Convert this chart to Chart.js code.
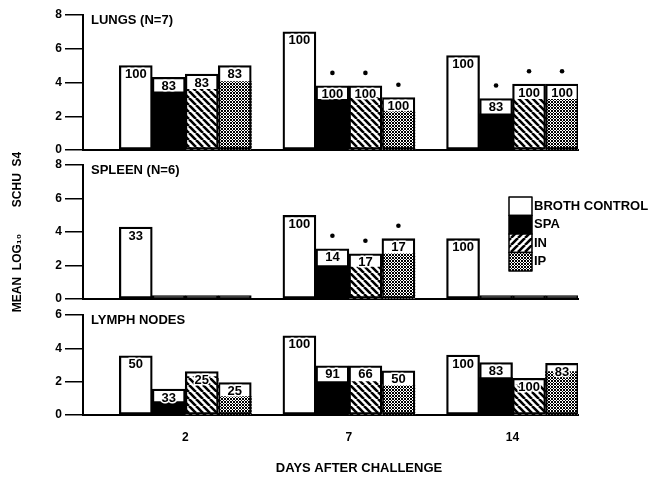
<!DOCTYPE html>
<html>
<head>
<meta charset="utf-8">
<script src="https://cdn.jsdelivr.net/npm/chart.js@4/dist/chart.umd.min.js"></script>
<style>
  html, body { margin: 0; padding: 0; background: #fff; }
  #wrap { position: relative; width: 650px; height: 477px; overflow: hidden; }
  #wrap canvas { position: absolute; left: 0; top: 0; }
</style>
</head>
<body>
<div id="wrap">
  <canvas id="lungs" width="650" height="477"></canvas>
  <canvas id="spleen" width="650" height="477"></canvas>
  <canvas id="lymph" width="650" height="477"></canvas>
</div>
<script>
/* ---------- data ---------- */
var DAYS         = ['2', '7', '14'];
var GROUPS       = ['BROTH CONTROL', 'SPA', 'IN', 'IP'];
var PANEL_TITLES = ['LUNGS (N=7)', 'SPLEEN (N=6)', 'LYMPH NODES'];
var Y_TITLE      = 'MEAN  LOG\u2081\u2080        SCHU  S4';
var X_TITLE      = 'DAYS AFTER CHALLENGE';

// lungs: box height (all animals) and filled part, per day
var lungsBroth   = [5.0, 7.0, 5.6];
var lungsSpa     = [4.3, 3.8, 3.05];
var lungsIn      = [4.5, 3.8, 3.9];
var lungsIp      = [5.0, 3.1, 3.9];
var lungsSpaFill = [3.45, 3.0, 2.15];
var lungsInFill  = [3.6, 3.1, 3.0];
var lungsIpFill  = [4.05, 2.3, 3.0];
var lungsPct     = [[100, 100, 100], [83, 100, 83], [83, 100, 100], [83, 100, 100]];
var lungsSig     = [[0, 0, 0], [0, 1, 1], [0, 1, 1], [0, 1, 1]];

// spleen
var spleenBroth   = [4.3, 5.0, 3.6];
var spleenSpa     = [0.2, 3.0, 0.2];
var spleenIn      = [0.2, 2.7, 0.2];
var spleenIp      = [0.2, 3.6, 0.2];
var spleenSpaFill = [null, 2.0, null];
var spleenInFill  = [null, 1.9, null];
var spleenIpFill  = [null, 2.7, null];
var spleenPct     = [[33, 100, 100], [null, 14, null], [null, 17, null], [null, 17, null]];
var spleenSig     = [[0, 0, 0], [0, 1, 0], [0, 1, 0], [0, 1, 0]];

// lymph nodes
var lymphBroth   = [3.55, 4.75, 3.6];
var lymphSpa     = [1.55, 2.95, 3.15];
var lymphIn      = [2.6, 2.95, 2.2];
var lymphIp      = [1.95, 2.65, 3.1];
var lymphSpaFill = [0.8, 2.0, 2.25];
var lymphInFill  = [2.3, 2.0, 1.8];
var lymphIpFill  = [1.1, 1.75, 2.6];
var lymphPct     = [[50, 100, 100], [33, 91, 83], [25, 66, 100], [25, 50, 83]];
var lymphSig     = [[0, 0, 0], [0, 0, 0], [0, 0, 0], [0, 0, 0]];

/* ---------- fills ---------- */
var FONT = '"Liberation Sans", Arial, sans-serif';
Chart.defaults.font.family = FONT;
Chart.defaults.color = '#000';

function stripePattern(back) {
  var s = 7;
  var c = document.createElement('canvas');
  c.width = s; c.height = s;
  var x = c.getContext('2d');
  x.fillStyle = '#fff'; x.fillRect(0, 0, s, s);
  x.strokeStyle = '#000'; x.lineWidth = 2.6;
  x.beginPath();
  for (var k = -1; k <= 1; k++) {
    if (back) { x.moveTo(k * s, 0); x.lineTo(k * s + s, s); }
    else      { x.moveTo(k * s, s); x.lineTo(k * s + s, 0); }
  }
  x.stroke();
  return x.createPattern(c, 'repeat');
}

function dotPattern() {
  var c = document.createElement('canvas');
  c.width = 3; c.height = 3;
  var x = c.getContext('2d');
  x.fillStyle = '#fff'; x.fillRect(0, 0, 3, 3);
  x.fillStyle = '#000';
  [[0, 0], [2, 0], [1, 1], [0, 2], [2, 2]].forEach(function (p) { x.fillRect(p[0], p[1], 1, 1); });
  return x.createPattern(c, 'repeat');
}

var FILLS        = ['#fff', '#000', stripePattern(true), dotPattern()];
var LEGEND_FILLS = ['#fff', '#000', stripePattern(false), dotPattern()];

/* ---------- helpers ---------- */
function toXY(values) {
  return values.map(function (v, i) { return { x: i, y: v }; });
}

// near-zero boxes are printed as a solid black strip on the baseline
function boxFill(ctx) {
  return ctx.raw && ctx.raw.y !== null && ctx.raw.y < 0.5 ? '#000' : 'rgba(0,0,0,0)';
}

function buildDatasets(totals, fills) {
  var ds = [];
  GROUPS.forEach(function (name, g) {
    ds.push({
      label: name, data: toXY(totals[g]), stack: 's' + g,
      backgroundColor: boxFill, borderColor: '#000',
      borderWidth: 1.6, borderSkipped: false, isBox: true, group: g,
    });
    if (fills[g]) {
      ds.push({
        label: name + ' fill', data: toXY(fills[g]), stack: 's' + g,
        backgroundColor: FILLS[g], borderWidth: 0, isBox: false, group: g,
      });
    }
  });
  return ds;
}

var PANEL_INFO = {};

var decoPlugin = {
  id: 'deco',
  afterDatasetsDraw: function (chart) {
    var info = PANEL_INFO[chart.canvas.id];
    var ctx = chart.ctx;
    var area = chart.chartArea;
    ctx.save();

    // percent labels inside the boxes and significance dots
    ctx.font = 'bold 13px ' + FONT;
    ctx.textAlign = 'center';
    ctx.textBaseline = 'middle';
    chart.data.datasets.forEach(function (ds, di) {
      if (!ds.isBox) return;
      var meta = chart.getDatasetMeta(di);
      meta.data.forEach(function (bar, i) {
        var pct = info.pct[ds.group][i];
        if (pct !== null) {
          ctx.lineWidth = 3; ctx.strokeStyle = '#fff'; ctx.lineJoin = 'round';
          ctx.strokeText(String(pct), bar.x, bar.y + 9);
          ctx.fillStyle = '#000';
          ctx.fillText(String(pct), bar.x, bar.y + 9);
        }
        if (info.sig[ds.group][i]) {
          ctx.beginPath();
          ctx.arc(bar.x, bar.y - 13, 2.3, 0, Math.PI * 2);
          ctx.fillStyle = '#000';
          ctx.fill();
        }
      });
    });

    // panel title
    ctx.textAlign = 'left';
    ctx.fillStyle = '#000';
    ctx.fillText(info.title, area.left + 8, area.top + 5);

    // legend
    if (info.legend) {
      var lx = 509, ly = 197, lw = 23, lh = 18.5;
      GROUPS.forEach(function (name, g) {
        ctx.fillStyle = LEGEND_FILLS[g];
        ctx.fillRect(lx, ly + g * lh, lw, lh);
        ctx.strokeStyle = '#000'; ctx.lineWidth = 1.5;
        ctx.strokeRect(lx, ly + g * lh, lw, lh);
        ctx.fillStyle = '#000';
        ctx.fillText(name, lx + lw + 2, ly + g * lh + lh / 2);
      });
    }

    // x axis title
    if (info.xTitle) {
      ctx.textAlign = 'center';
      ctx.fillText(X_TITLE, 359, 468);
    }
    ctx.restore();
  },
};

function makePanel(id, title, max, totals, fills, pct, sig, opts) {
  PANEL_INFO[id] = { title: title, pct: pct, sig: sig, legend: !!opts.legend, xTitle: !!opts.xLabels };

  return new Chart(document.getElementById(id), {
    type: 'bar',
    data: { datasets: buildDatasets(totals, fills) },
    plugins: [decoPlugin],
    options: {
      responsive: false,
      animation: false,
      events: [],
      barThickness: 33,
      layout: { padding: { left: 0, right: 72, top: opts.top, bottom: opts.bottom } },
      plugins: { legend: { display: false }, tooltip: { enabled: false }, title: { display: false } },
      scales: {
        x: {
          type: 'linear', min: -0.625, max: 2.4, offset: false,
          grid: { display: true, drawOnChartArea: false, drawTicks: false, offset: false },
          border: { color: '#000', width: 2 },
          ticks: {
            display: !!opts.xLabels, padding: 15, color: '#000',
            font: { size: 12, weight: 'bold' },
            callback: function (v) { return DAYS[v]; },
          },
          afterBuildTicks: function (s) {
            s.ticks = DAYS.map(function (d, i) { return { value: i }; });
          },
          afterFit: function (s) { s.height = opts.xLabels ? 62 : 0; },
        },
        y: {
          min: 0, max: max, stacked: false,
          ticks: { stepSize: 2, padding: 3, color: '#000', font: { size: 12, weight: 'bold' } },
          grid: { drawOnChartArea: false, drawTicks: true, tickLength: 18, color: '#000', lineWidth: 1.5 },
          border: { color: '#000', width: 2 },
          title: {
            display: !!opts.yTitle, text: Y_TITLE, color: '#000',
            font: { size: 12, weight: 'bold' }, padding: { top: 10, bottom: 0 },
          },
          afterFit: function (s) { s.width = 83; },
        },
      },
    },
  });
}

/* ---------- panels ---------- */
makePanel('lungs', PANEL_TITLES[0], 8,
  [lungsBroth, lungsSpa, lungsIn, lungsIp],
  [null, lungsSpaFill, lungsInFill, lungsIpFill],
  lungsPct, lungsSig, { top: 15, bottom: 327 });

makePanel('spleen', PANEL_TITLES[1], 8,
  [spleenBroth, spleenSpa, spleenIn, spleenIp],
  [null, spleenSpaFill, spleenInFill, spleenIpFill],
  spleenPct, spleenSig, { top: 165, bottom: 178, legend: true, yTitle: true });

makePanel('lymph', PANEL_TITLES[2], 6,
  [lymphBroth, lymphSpa, lymphIn, lymphIp],
  [null, lymphSpaFill, lymphInFill, lymphIpFill],
  lymphPct, lymphSig, { top: 315, bottom: 0, xLabels: true });
</script>
</body>
</html>
